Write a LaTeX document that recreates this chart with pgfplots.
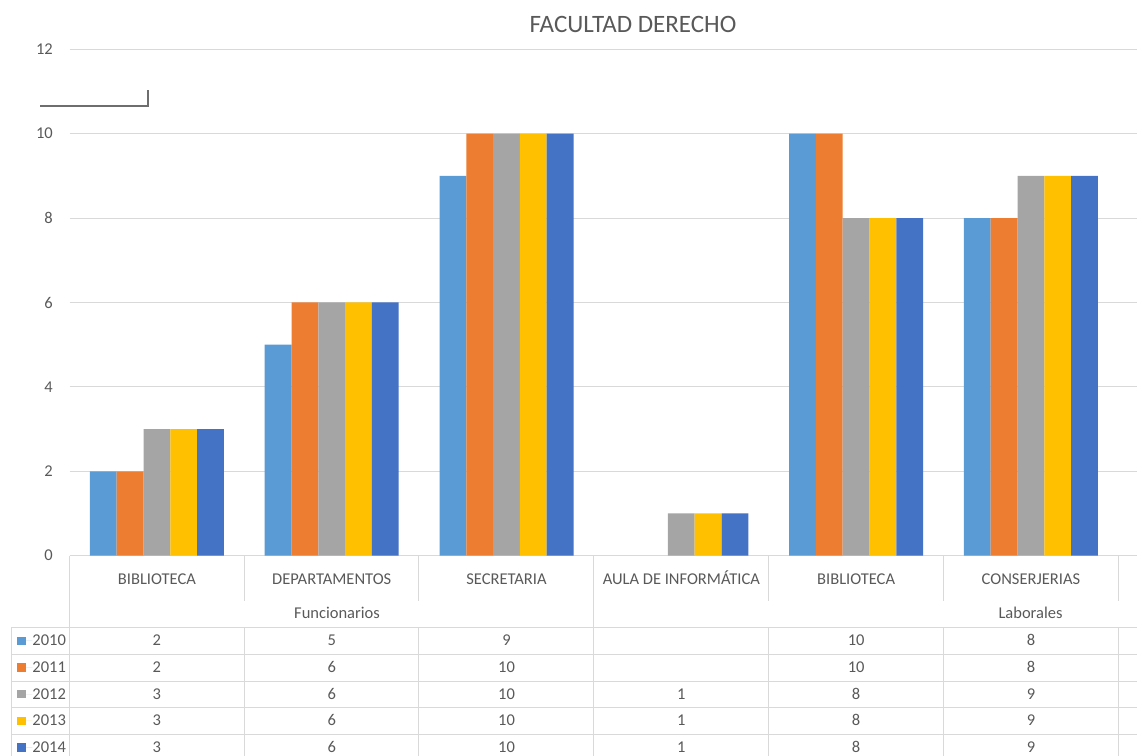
\documentclass[border=0pt]{standalone}
\usepackage{fontspec}
\setmainfont{Carlito}
\usepackage{pgfplots}
\usepackage{pgfplotstable}
\pgfplotsset{compat=1.18}
\definecolor{c2010}{HTML}{5B9BD5}
\definecolor{c2011}{HTML}{ED7D31}
\definecolor{c2012}{HTML}{A5A5A5}
\definecolor{c2013}{HTML}{FFC000}
\definecolor{c2014}{HTML}{4472C4}
\definecolor{tgray}{HTML}{595959}
\definecolor{gline}{HTML}{D9D9D9}
\definecolor{artc}{HTML}{6E6E6E}
\newcommand\tf{\fontsize{16.5}{19}\selectfont}

\pgfplotstableread{
x   y2010 y2011 y2012 y2013 y2014
0.5 2     2     3     3     3
1.5 5     6     6     6     6
2.5 9     10    10    10    10
3.5 nan   nan   1     1     1
4.5 10    10    8     8     8
5.5 8     8     9     9     9
}\datatable

\pgfplotsset{
  tabtext/.style={draw=none, mark=none, forget plot, nodes near coords,
    point meta=explicit symbolic,
    nodes near coords style={anchor=base, inner sep=0pt, font=\tf, text=tgray}},
  barstyle/.style={ybar, bar width=26.8pt, draw=none},
}

\begin{document}
\begin{tikzpicture}[x=1pt,y=1pt]
\path[use as bounding box] (0,0) rectangle (1137,755);
\begin{axis}[
  at={(69.5pt,199.3pt)}, anchor=south west,
  scale only axis, width=1067.5pt, height=506.4pt,
  xmin=0, xmax=6.107, ymin=0, ymax=12,
  ytick={0,2,4,6,8,10,12},
  xtick={0.5,1.5,2.5,3.5,4.5,5.5},
  xticklabels={BIBLIOTECA,DEPARTAMENTOS,SECRETARIA,AULA DE INFORMÁTICA,BIBLIOTECA,CONSERJERIAS},
  axis line style={draw=none},
  major tick length=0pt,
  ymajorgrids, grid style={gline, line width=1pt},
  clip=false,
  /pgf/number format/assume math mode=true,
  yticklabel style={anchor=east, inner sep=0pt, xshift=-16.5pt, font=\tf, text=tgray},
  xticklabel style={anchor=base, inner sep=0pt, yshift=-28.3pt, font=\tf, text=tgray},
  legend style={at={(-0.0489,-0.158)}, anchor=north west, draw=none, fill=none,
    inner sep=0pt, row sep=16.65pt, font=\tf, text=tgray,
    nodes={inner sep=0pt, text height=10pt, text depth=0pt}},
  legend cell align=left,
]
\addplot[barstyle, bar shift=-53.6pt, fill=c2010,
  legend image code/.code={\fill[c2010] (0pt,-4.25pt) rectangle (8.7pt,4.25pt); \path (0pt,0pt) -- (15pt,0pt);}]
  table[x=x, y=y2010] {\datatable};
\addlegendentry{2010}
\addplot[barstyle, bar shift=-26.8pt, fill=c2011,
  legend image code/.code={\fill[c2011] (0pt,-4.25pt) rectangle (8.7pt,4.25pt); \path (0pt,0pt) -- (15pt,0pt);}]
  table[x=x, y=y2011] {\datatable};
\addlegendentry{2011}
\addplot[barstyle, bar shift=0pt, fill=c2012,
  legend image code/.code={\fill[c2012] (0pt,-4.25pt) rectangle (8.7pt,4.25pt); \path (0pt,0pt) -- (15pt,0pt);}]
  table[x=x, y=y2012] {\datatable};
\addlegendentry{2012}
\addplot[barstyle, bar shift=26.8pt, fill=c2013,
  legend image code/.code={\fill[c2013] (0pt,-4.25pt) rectangle (8.7pt,4.25pt); \path (0pt,0pt) -- (15pt,0pt);}]
  table[x=x, y=y2013] {\datatable};
\addlegendentry{2013}
\addplot[barstyle, bar shift=53.6pt, fill=c2014,
  legend image code/.code={\fill[c2014] (0pt,-4.25pt) rectangle (8.7pt,4.25pt); \path (0pt,0pt) -- (15pt,0pt);}]
  table[x=x, y=y2014] {\datatable};
\addlegendentry{2014}

\addplot[tabtext, skip coords between index={3}{4}] table[x=x, y expr=-2.1327, meta=y2010] {\datatable};
\addplot[tabtext, skip coords between index={3}{4}] table[x=x, y expr=-2.7642, meta=y2011] {\datatable};
\addplot[tabtext] table[x=x, y expr=-3.3957, meta=y2012] {\datatable};
\addplot[tabtext] table[x=x, y expr=-4.0273, meta=y2013] {\datatable};
\addplot[tabtext] table[x=x, y expr=-4.6588, meta=y2014] {\datatable};
\end{axis}

% table borders
\begin{scope}[gline, line width=1pt]
  \foreach \yy in {127.3,100.7,74,47.3,20.7} { \draw (11,\yy) -- (1137,\yy); }
  \draw (11,127.3) -- (11,-1);
  \draw (69.5,199.3) -- (69.5,-1);
  \draw (593.7,199.3) -- (593.7,-1);
  \foreach \xx in {244.1,418.9,768.5,943.3,1118.1} {
    \draw (\xx,199.3) -- (\xx,154);
    \draw (\xx,127.3) -- (\xx,-1);
  }
\end{scope}
\node[anchor=base, font=\tf, text=tgray, inner sep=0pt] at (337,136.7) {Funcionarios};
\node[anchor=base, font=\tf, text=tgray, inner sep=0pt] at (1030.5,136.7) {Laborales};
\node[anchor=base, font=\fontsize{25}{30}\selectfont, text=tgray, inner sep=0pt] at (633,722.3) {FACULTAD DERECHO};
\draw[artc, line width=2pt] (40,649) -- (148,649) -- (148,665);
\end{tikzpicture}
\end{document}
